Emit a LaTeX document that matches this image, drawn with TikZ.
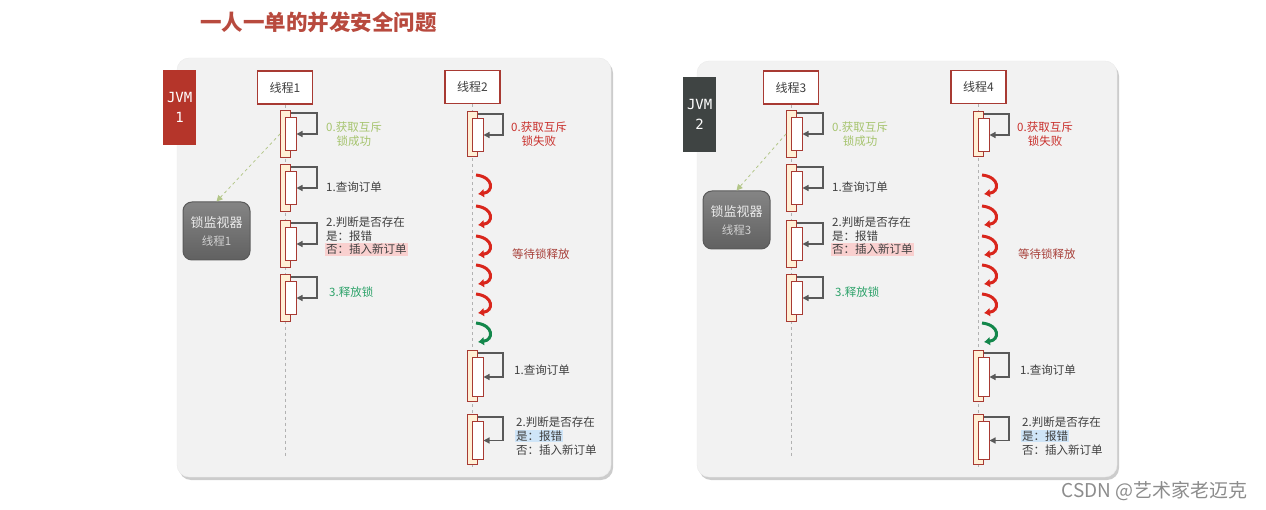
\documentclass[tikz,border=0pt]{standalone}
\usepackage{fontspec}
\setmainfont{Noto Sans CJK SC}
\newfontfamily\monofont{DejaVu Sans Mono}
\usetikzlibrary{arrows.meta}

\definecolor{titlered}{HTML}{B84A3E}
\definecolor{panelgray}{HTML}{F2F2F2}
\definecolor{jvmred}{HTML}{B5352A}
\definecolor{jvmgray}{HTML}{3F4443}
\definecolor{boxred}{HTML}{A83A33}
\definecolor{actbeige}{HTML}{FFF0D6}
\definecolor{okgreen}{HTML}{A6C46E}
\definecolor{failred}{HTML}{C9302C}
\definecolor{relgreen}{HTML}{2FA36B}
\definecolor{waitred}{HTML}{A8413B}
\definecolor{spinred}{HTML}{D9261C}
\definecolor{spingreen}{HTML}{13874B}
\definecolor{pinkhl}{HTML}{F9D0CF}
\definecolor{bluehl}{HTML}{CFE5F8}
\definecolor{lockgreen}{HTML}{B3C688}

\tikzset{
  panel/.style={fill=panelgray,draw=black!8,rounded corners=12pt},
  jvmbox/.style={anchor=north west,minimum width=33pt,minimum height=75pt,inner sep=0pt,text=white,align=center,font=\monofont\fontsize{14}{20}\selectfont},
  head/.style={draw=boxred,line width=1.2pt,fill=white,minimum width=55pt,minimum height=33pt,inner sep=0pt,text=black!75,font=\fontsize{12}{14}\selectfont},
  life/.style={draw=black!30,dashed,line width=0.8pt},
  actout/.style={draw=boxred,line width=1pt,fill=actbeige,anchor=north west,minimum width=10pt,inner sep=0pt},
  actin/.style={draw=boxred,line width=1pt,fill=white,anchor=north west,minimum width=11pt,inner sep=0pt},
  selfloop/.style={draw=black!65,line width=1.3pt,-{Triangle[length=6pt,width=6pt]}},
  lbl/.style={anchor=west,inner sep=1pt,text=black!75,font=\fontsize{11.5}{13.5}\selectfont},
  spin/.style={line width=3pt,-{Latex[length=6pt,width=9pt]}},
  monitor/.style={draw=black!65,line width=1pt,top color=black!48,bottom color=black!62,rounded corners=9pt,minimum width=67pt,minimum height=58pt,inner sep=0pt,align=center,text=white!92!black,font=\fontsize{13}{18}\selectfont},
  lockline/.style={draw=lockgreen,dashed,line width=0.8pt,-{Triangle[length=6pt,width=6pt]}}
}

\begin{document}
\begin{tikzpicture}[x=1pt,y=-1pt]
\useasboundingbox (0,0) rectangle (1266,510);
\node[text=titlered,font=\bfseries\fontsize{21.5}{21.5}\selectfont] (title) at (318.5,22) {一人一单的并发安全问题};
\foreach \p/\pl/\pr/\pt/\jx/\jy/\jc/\n/\s/\my in {L/177/611/58/163/70/jvmred/1/0/231,R/697/1117/61/683/77/jvmgray/2/506/220}{
  \pgfmathtruncatemacro\ta{2*\n-1}\pgfmathtruncatemacro\tb{2*\n}
  % panel + jvm
  \fill[black!20,rounded corners=12pt] (\pl+2,\pt+3) rectangle (\pr+2,480);
  \draw[panel] (\pl,\pt) rectangle (\pr,477);
  \node[jvmbox,fill=\jc] (\p-jvm) at (\jx,\jy) {JVM\\\n};
  % threads
  \node[head] (\p-h1) at (285+\s,87.5) {线程\ta};
  \node[head] (\p-h2) at (472.5+\s,87) {线程\tb};
  \coordinate (\p-e1) at (285+\s,456);
  \coordinate (\p-e2) at (472.5+\s,470);
  \draw[life] (\p-h1.south) -- (\p-e1);
  \draw[life] (\p-h2.south) -- (\p-e2);
  % thread a
  \foreach \k/\yt in {0/110,1/164,2/220,3/274}{
    \node[actout,minimum height=47pt] (\p-a\k-o) at (280+\s,\yt) {};
    \node[actin,minimum height=33pt] (\p-a\k-i) at (284.5+\s,\yt+7) {};
    \draw[selfloop] ([yshift=-3pt]\p-a\k-o.north east) -- ++(26,0) |- (\p-a\k-i.east);
  }
  \node[lbl,align=center,text=okgreen] (\p-l0) at (325+\s,134) {0.获取互斥\\锁成功};
  \node[lbl] (\p-l1) at (325+\s,187) {1.查询订单};
  \node[lbl] (\p-l2a) at (325+\s,222) {2.判断是否存在};
  \node[lbl] (\p-l2b) at (325+\s,236) {是：报错};
  \node[lbl,fill=pinkhl] (\p-l2c) at (325+\s,249.5) {否：插入新订单};
  \node[lbl,text=relgreen] (\p-l3) at (328+\s,292) {3.释放锁};
  % thread b
  \foreach \k/\yt/\h in {0/111/45,1/350/51,2/414/50}{
    \node[actout,minimum height=\h pt] (\p-b\k-o) at (467+\s,\yt) {};
    \node[actin,minimum height=\h pt-12pt] (\p-b\k-i) at (471.5+\s,\yt+7) {};
    \draw[selfloop] ([yshift=-3pt]\p-b\k-o.north east) -- ++(25,0) |- (\p-b\k-i.east);
  }
  \node[lbl,align=center,text=failred] (\p-m0) at (510+\s,134) {0.获取互斥\\锁失败};
  \foreach \c in {185,216,246,275,304}
    \draw[spin,spinred] (476+\s,\c-10) .. controls (494+\s,\c-8) and (494+\s,\c+7) .. (478+\s,\c+9);
  \draw[spin,spingreen] (476+\s,323) .. controls (494+\s,325) and (494+\s,340) .. (478+\s,342);
  \node[lbl,text=waitred] (\p-wait) at (511+\s,254) {等待锁释放};
  \node[lbl] (\p-m1) at (513+\s,370) {1.查询订单};
  \node[lbl] (\p-m2a) at (515+\s,422) {2.判断是否存在};
  \node[lbl,fill=bluehl] (\p-m2b) at (515+\s,436) {是：报错};
  \node[lbl] (\p-m2c) at (515+\s,450) {否：插入新订单};
  % lock monitor
  \node[monitor] (\p-mon) at (\jx+53.5,\my) {锁监视器\\{\fontsize{11.5}{12}\selectfont\color{black!18}线程\ta}};
  \draw[lockline] (\p-a0-o.west) -- (\p-mon.north);
}
\node[anchor=east,text=black!45,font=\fontsize{19}{19}\selectfont] (mark) at (1251,491) {CSDN @艺术家老迈克};
\end{tikzpicture}
\end{document}
